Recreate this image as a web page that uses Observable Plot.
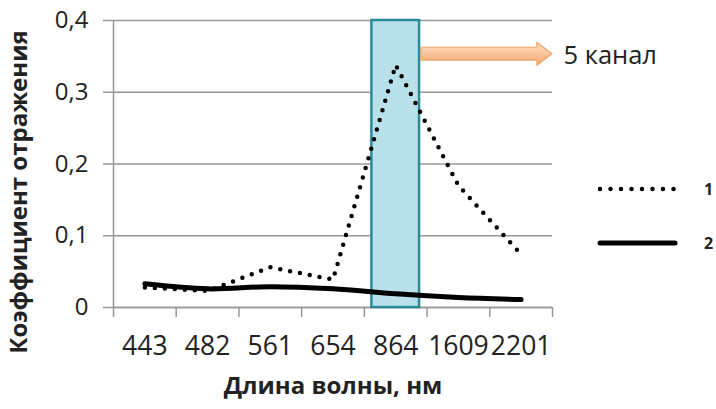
<!DOCTYPE html>
<html><head><meta charset="utf-8">
<script src="https://cdn.jsdelivr.net/npm/d3@7"></script>
<script src="https://cdn.jsdelivr.net/npm/@observablehq/plot@0.6"></script>
<style>
body{margin:0;background:#fff;font-family:"Open Sans",sans-serif;}
#wrap{position:relative;width:716px;height:409px;overflow:hidden;}
.leg{position:absolute;left:0;top:0;}
</style></head><body><div id="wrap"></div>
<script>
const wavelengths = ["443","482","561","654","864","1609","2201"];
const series1 = [0.028,0.023,0.056,0.039,0.338,0.170,0.074];
const series2 = [0.033,0.026,0.029,0.026,0.019,0.014,0.011];
const yTicks = [0,0.1,0.2,0.3,0.4];
const seriesNames = ["1","2"];
const highlightCategory = "864";
const channelLabel = "5 канал";
const yTitle = "Коэффициент отражения";
const xTitle = "Длина волны, нм";

const gray = "#989898";
const n = wavelengths.length;
const hi = wavelengths.indexOf(highlightCategory);
const data1 = wavelengths.map((w,i)=>({i, w, v: series1[i]}));
const data2 = wavelengths.map((w,i)=>({i, w, v: series2[i]}));
const bounds = d3.range(n+1).map(i=>i-0.5);
const arrowY = 0.353;
const arrowStart = hi + 0.41, arrowHead = n - 0.74, arrowEnd = n - 0.5;
const arrowPts = [
  {x: arrowStart, y1: arrowY-0.009, y2: arrowY+0.009},
  {x: arrowHead, y1: arrowY-0.009, y2: arrowY+0.009},
  {x: arrowHead, y1: arrowY-0.016, y2: arrowY+0.016},
  {x: arrowEnd, y1: arrowY, y2: arrowY}
];

const plot = Plot.plot({
  width: 716, height: 409,
  marginLeft: 113, marginRight: 164, marginTop: 20, marginBottom: 102,
  style: {fontFamily: "'Open Sans', sans-serif", color: "#222", background: "white"},
  x: {type: "linear", domain: [-0.5, n-0.5]},
  y: {domain: [0, 0.4]},
  marks: [
    Plot.gridY(yTicks, {stroke: gray, strokeOpacity: 1, strokeWidth: 1.5}),
    Plot.axisY(yTicks, {tickSize: 10, tickPadding: 15, stroke: gray, strokeWidth: 1.5, fill: "#222", fontSize: 24,
      tickFormat: d => d === 0 ? "0" : String(d).replace(".", ","), label: null}),
    Plot.axisX(bounds, {tickSize: 10, stroke: gray, strokeWidth: 1.5, tickFormat: () => "", label: null}),
    Plot.axisX(d3.range(n), {tickSize: 0, tickPadding: 29, fontSize: 26.5, fill: "#222",
      tickFormat: i => wavelengths[i], label: null}),
    Plot.ruleX([-0.5], {stroke: gray, strokeWidth: 1.5}),
    Plot.ruleY([0], {stroke: gray, strokeWidth: 1.5}),
    Plot.rect([hi], {x1: d=>d-0.38, x2: d=>d+0.38, y1: 0, y2: 0.4, fill: "#b9e1ea", stroke: "#2a8a99", strokeWidth: 2.5}),
    Plot.line(data2, {x: "i", y: "v", curve: "catmull-rom", stroke: "black", strokeWidth: 5}),
    Plot.line(data1, {x: "i", y: "v", curve: "linear", stroke: "black", strokeWidth: 4.5, strokeDasharray: "0,10", strokeLinecap: "round", strokeLinejoin: "round"}),
    Plot.areaY(arrowPts, {x: "x", y1: "y1", y2: "y2", fill: "url(#arrowGrad)", stroke: "#f0a468", strokeWidth: 1.2}),
    Plot.text([channelLabel], {x: arrowEnd, y: arrowY, textAnchor: "start", dx: 11, dy: 2, fontSize: 25.5, fill: "#222"}),
    Plot.text([yTitle], {frameAnchor: "left", textAnchor: "middle", dx: -94, dy: 28, rotate: -90, fontWeight: "bold", fontSize: 24, fill: "#222"}),
    Plot.text([xTitle], {frameAnchor: "bottom", textAnchor: "middle", dy: 86, fontWeight: "bold", fontSize: 24, fill: "#222"})
  ]
});

const svg = d3.select(plot);
const defs = svg.insert("defs", ":first-child");
const g = defs.append("linearGradient").attr("id","arrowGrad").attr("x1",0).attr("y1",0).attr("x2",0).attr("y2",1);
g.append("stop").attr("offset","0%").attr("stop-color","#fde2cb");
g.append("stop").attr("offset","100%").attr("stop-color","#f6a66a");

const wrap = document.getElementById("wrap");
wrap.appendChild(plot);

// legend
const leg = d3.select(wrap).append("svg").attr("class","leg").attr("width",716).attr("height",409)
  .style("pointer-events","none");
const legItems = [
  {name: seriesNames[0], y: 189, dash: "0,10.5", w: 4.5},
  {name: seriesNames[1], y: 243, dash: null, w: 5}
];
legItems.forEach(it => {
  leg.append("line").attr("x1",600).attr("x2",675).attr("y1",it.y).attr("y2",it.y)
    .attr("stroke","black").attr("stroke-width",it.w).attr("stroke-linecap","round")
    .attr("stroke-dasharray", it.dash);
  leg.append("text").attr("x",704).attr("y",it.y).attr("dy","0.35em")
    .attr("font-family","'Open Sans', sans-serif").attr("font-weight","bold").attr("font-size",16)
    .attr("fill","#222").text(it.name);
});
</script>
</body></html>
